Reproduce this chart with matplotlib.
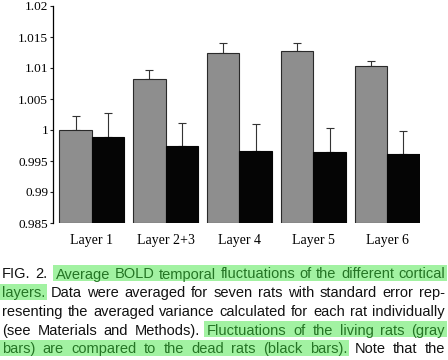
import matplotlib
matplotlib.use("Agg")
import matplotlib.pyplot as plt
import numpy as np
from matplotlib.patches import Rectangle

layers = ["Layer 1", "Layer 2+3", "Layer 4", "Layer 5", "Layer 6"]
living = [1.0000, 1.0082, 1.0124, 1.0127, 1.0103]
living_err = [0.0022, 0.0015, 0.0016, 0.0013, 0.0008]
dead = [0.9989, 0.9974, 0.9966, 0.9964, 0.9961]
dead_err = [0.0039, 0.0037, 0.0044, 0.0039, 0.0037]
yticks = [0.985, 0.99, 0.995, 1.0, 1.005, 1.01, 1.015, 1.02]
ytick_labels = ["0.985", "0.99", "0.995", "1", "1.005", "1.01", "1.015", "1.02"]

caption_lines = [
    [("FIG. 2.", False), ("Average BOLD temporal fluctuations of the different cortical", True)],
    [("layers.", True), ("Data were averaged for seven rats with standard error rep-", False)],
    [("resenting the averaged variance calculated for each rat individually", False)],
    [("(see Materials and Methods).", False), ("Fluctuations of the living rats (gray", True)],
    [("bars) are compared to the dead rats (black bars).", True), ("Note that the", False)],
]

W, H = 448, 360
fig = plt.figure(figsize=(W / 100, H / 100), dpi=100)
ax_l, ax_r, ax_t, ax_b = 53, 420, 6, 223
ax = fig.add_axes([ax_l / W, 1 - ax_b / H, (ax_r - ax_l) / W, (ax_b - ax_t) / H])

x = np.arange(len(layers))
bw = 0.44
ax.bar(x - bw / 2, np.array(living) - 0.985, bw, bottom=0.985, color="#8e8e8e",
       edgecolor="#2a2a2a", linewidth=0.8, zorder=2)
ax.bar(x + bw / 2, np.array(dead) - 0.985, bw, bottom=0.985, color="#050505",
       edgecolor="#050505", linewidth=0.8, zorder=2)
ax.errorbar(x - bw / 2, living, yerr=[np.zeros(5), living_err], fmt="none",
            ecolor="#333333", elinewidth=0.8, capsize=3, capthick=0.8, zorder=1)
ax.errorbar(x + bw / 2, dead, yerr=[np.zeros(5), dead_err], fmt="none",
            ecolor="#333333", elinewidth=0.8, capsize=3, capthick=0.8, zorder=1)

ax.set_ylim(0.985, 1.02)
ax.set_xlim(-0.527, 4.446)
ax.set_yticks(yticks)
ax.set_yticklabels(ytick_labels, fontfamily="Liberation Serif", fontsize=9.5)
ax.set_xticks(x)
ax.set_xticklabels(layers, fontfamily="Liberation Serif", fontsize=10)
ax.tick_params(axis="y", length=2.5, width=0.8, pad=1, color="#222")
ax.tick_params(axis="x", length=0, pad=8)
for s in ["top", "right", "bottom"]:
    ax.spines[s].set_visible(False)
ax.spines["left"].set_linewidth(0.9)

# caption, justified word by word
renderer = fig.canvas.get_renderer()
left_px, right_px = 2, 445

# pick a font size so that the naturally set third line nearly fills the width
probe = fig.text(0, 0, caption_lines[2][0][0], fontfamily="Liberation Sans", fontsize=10)
pw = probe.get_window_extent(renderer=renderer).width
probe.remove()
fs = 10 * (right_px - left_px - 6) / pw

base0, pitch = 278.5, 18.7
hl_color = "#a2f2a2"
hl_text = "#257525"
for li, segs in enumerate(caption_lines):
    words = []
    for si, (seg, hl) in enumerate(segs):
        for w in seg.split(" "):
            words.append((w, hl, si))
    texts = []
    widths = []
    for w, hl, si in words:
        t = fig.text(0, 0, w, fontfamily="Liberation Sans", fontsize=fs,
                     color=hl_text if hl else "#111111", va="baseline", ha="left", zorder=3)
        bb = t.get_window_extent(renderer=renderer)
        texts.append(t)
        widths.append(bb.width)
    extra_gap = 5 if li == 0 else 0
    avail = right_px - left_px - sum(widths) - extra_gap
    sp = max(avail / (len(words) - 1), 2.5)
    xpos = left_px
    base = base0 + pitch * li
    positions = []
    for i, (t, wd) in enumerate(zip(texts, widths)):
        if li == 0 and i == 2:
            xpos += extra_gap
        t.set_position((xpos / W, 1 - base / H))
        positions.append((xpos, xpos + wd))
        xpos += wd + sp
    for si, (seg, hl) in enumerate(segs):
        if not hl:
            continue
        idx = [i for i, w in enumerate(words) if w[2] == si]
        x0 = positions[idx[0]][0] - 3
        x1 = positions[idx[-1]][1] + 2
        y0 = base + 2.5
        y1 = base - 13.5
        fig.patches.append(Rectangle((x0 / W, 1 - y0 / H), (x1 - x0) / W, (y0 - y1) / H,
                                     transform=fig.transFigure, facecolor=hl_color,
                                     edgecolor="none", zorder=1))

fig.savefig("out.png", dpi=100)
